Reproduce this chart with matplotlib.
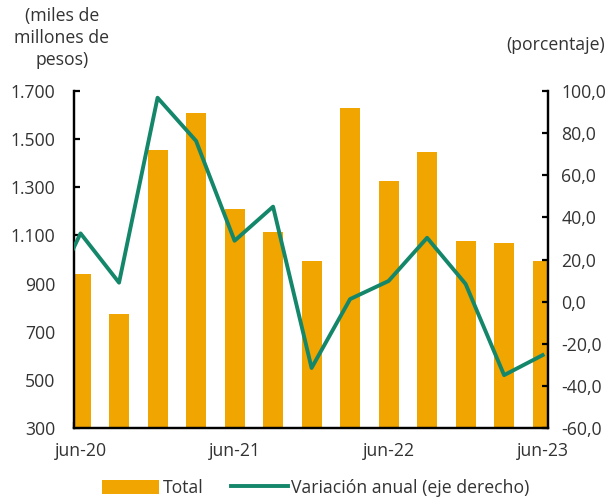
import numpy as np
import matplotlib.pyplot as plt
from matplotlib.ticker import FuncFormatter

plt.rcParams['font.family'] = ['Open Sans', 'DejaVu Sans']

# quarterly data, jun-20 .. jun-23
quarters = ['jun-20', 'sep-20', 'dic-20', 'mar-21', 'jun-21', 'sep-21', 'dic-21',
            'mar-22', 'jun-22', 'sep-22', 'dic-22', 'mar-23', 'jun-23']
total = [940, 775, 1455, 1610, 1210, 1115, 992, 1630, 1328, 1445, 1077, 1067, 992]
# annual variation, first value is mar-20 (only its segment is visible)
variacion = [-6.0, 32.4, 9.0, 96.8, 76.3, 28.9, 45.1, -31.5, 1.2, 9.8, 30.3, 8.4, -34.9, -25.4]
tick_labels = ['jun-20', 'jun-21', 'jun-22', 'jun-23']

bar_color = '#F0A500'
line_color = '#14876A'
txt_color = '#333333'
fs = 12.7

fig = plt.figure(figsize=(6.10, 5.01), dpi=100)
ax = fig.add_axes([74/610, 1-428/501, (548-74)/610, (428-91)/501])
ax2 = ax.twinx()

x = np.arange(len(quarters)) + 0.17
xl = np.arange(-1, len(quarters)) + 0.17

ax.bar(x, total, width=0.52, color=bar_color, zorder=2, label='Total')
ax2.plot(xl, variacion, color=line_color, lw=2.8, zorder=3,
         label='Variación anual (eje derecho)')

ax.set_xlim(0, 12.31)
ax.set_ylim(300, 1700)
ax.set_yticks(np.arange(300, 1701, 200))
ax.yaxis.set_major_formatter(FuncFormatter(lambda v, p: f'{int(v):,}'.replace(',', '.')))
ax2.set_ylim(-60, 100)
ax2.set_yticks(np.arange(-60, 101, 20))
ax2.yaxis.set_major_formatter(FuncFormatter(lambda v, p: f'{v:.1f}'.replace('.', ',')))

# tick marks at year boundaries, labels centred under the jun bars
ax.set_xticks([0, 4, 8, 12])
ax.set_xticklabels([])
ax.set_xticks(x[::4], minor=True)
ax.set_xticklabels(tick_labels, minor=True)
ax.tick_params(axis='x', which='minor', length=0, pad=10, labelsize=fs, labelcolor=txt_color)

for a in (ax, ax2):
    a.spines['top'].set_visible(False)
    for s in ('left', 'right', 'bottom'):
        a.spines[s].set_linewidth(1.6)
        a.spines[s].set_color('black')
    a.tick_params(which='major', direction='in', length=4, width=1.6, labelsize=fs,
                  colors='black', labelcolor=txt_color)
ax.tick_params(axis='y', pad=13.5)
ax2.tick_params(axis='y', pad=9.5)

fig.text(62/610, 1-38/501, '(miles de\nmillones de\npesos)', ha='center', va='center',
         fontsize=fs, color=txt_color, linespacing=1.3)
fig.text(556/610, 1-45/501, '(porcentaje)', ha='center', va='center',
         fontsize=fs, color=txt_color)

h1, l1 = ax.get_legend_handles_labels()
h2, l2 = ax2.get_legend_handles_labels()
fig.legend(h1 + h2, l1 + l2, loc='center', bbox_to_anchor=(316/610, 1-488/501), ncol=2,
           frameon=False, fontsize=fs, handlelength=3.2, handleheight=0.9,
           handletextpad=0.2, columnspacing=1.6, labelcolor=txt_color)

fig.savefig('out.png', dpi=100)
